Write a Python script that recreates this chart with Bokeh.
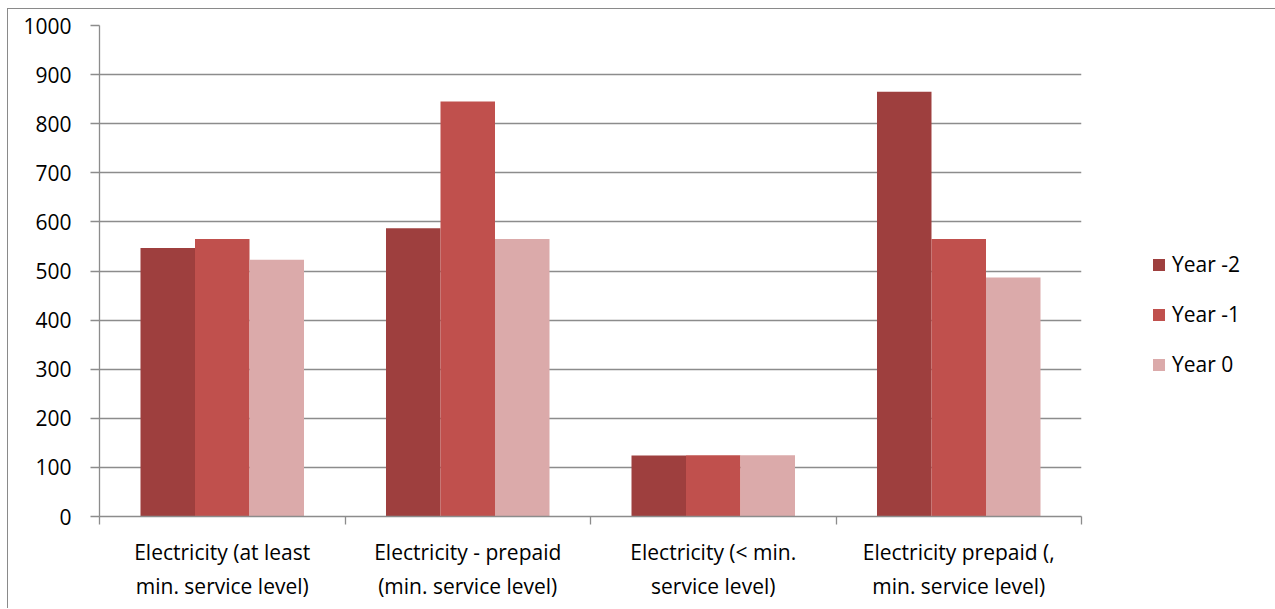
from bokeh.plotting import figure
from bokeh.models import ColumnDataSource, FixedTicker, Legend, LegendItem, Range1d
from bokeh.transform import dodge
from bokeh.embed import file_html
from bokeh.resources import INLINE

categories = [
    "Electricity (at least\nmin. service level)",
    "Electricity - prepaid\n(min. service level)",
    "Electricity (< min.\nservice level)",
    "Electricity prepaid (,\nmin. service level)",
]
series_names = ["Year -2", "Year -1", "Year 0"]
year_m2 = [547, 587, 124, 865]
year_m1 = [565, 845, 125, 565]
year_0 = [523, 565, 125, 487]
colors = ["#9e3f3e", "#c0504d", "#dbaaaa"]
y_ticks = [0, 100, 200, 300, 400, 500, 600, 700, 800, 900, 1000]

FONT = "Open Sans"
GRID = "#8c8c8c"

centers = [i + 0.5 for i in range(len(categories))]
source = ColumnDataSource(dict(x=centers, y2=year_m2, y1=year_m1, y0=year_0))

p = figure(
    frame_width=982, frame_height=491,
    x_range=Range1d(0, len(categories)), y_range=Range1d(0, 1000),
    output_backend="svg", toolbar_location=None,
    min_border_left=91, min_border_right=193, min_border_top=16, min_border_bottom=92,
)
p.styles = {
    "margin-left": "7px", "margin-top": "8px",
    "border-left": "1.5px solid #8a8a8a", "border-top": "1.5px solid #8a8a8a",
}
p.outline_line_color = None
p.background_fill_color = "white"
p.border_fill_color = "white"

bar_w = 0.222
renderers = []
for name, col, off, color in zip(series_names, ["y2", "y1", "y0"], [-bar_w, 0, bar_w], colors):
    r = p.vbar(x=dodge("x", off, range=p.x_range), top=col, width=bar_w, source=source,
               fill_color=color, line_color=None)
    renderers.append(r)

# y axis and grid
p.yaxis.ticker = FixedTicker(ticks=y_ticks, minor_ticks=[])
p.yaxis.axis_line_color = GRID
p.yaxis.axis_line_width = 1.3
p.yaxis.major_tick_line_color = GRID
p.yaxis.major_tick_line_width = 1.3
p.yaxis.major_tick_out = 9
p.yaxis.major_tick_in = 0
p.yaxis.major_label_standoff = 19
p.yaxis.major_label_text_font = FONT
p.yaxis.major_label_text_font_size = "21px"
p.yaxis.major_label_text_color = "#000000"
p.ygrid.grid_line_color = GRID
p.ygrid.grid_line_width = 1.3
p.xgrid.grid_line_color = None

# x axis: labels centered under groups, ticks on group boundaries
p.xaxis.ticker = FixedTicker(ticks=centers, minor_ticks=list(range(len(categories) + 1)))
p.xaxis.major_label_overrides = {c: lab for c, lab in zip(centers, categories)}
p.xaxis.axis_line_color = GRID
p.xaxis.axis_line_width = 1.3
p.xaxis.major_tick_line_color = None
p.xaxis.minor_tick_line_color = GRID
p.xaxis.minor_tick_line_width = 1.3
p.xaxis.minor_tick_out = 8
p.xaxis.minor_tick_in = 0
p.xaxis.major_label_standoff = 13
p.xaxis.major_label_text_font = FONT
p.xaxis.major_label_text_font_size = "21px"
p.xaxis.major_label_text_color = "#000000"
p.xaxis.major_label_text_line_height = 1.24

legend = Legend(
    items=[LegendItem(label=n, renderers=[r]) for n, r in zip(series_names, renderers)],
    location=(70, 138),
    glyph_width=15, glyph_height=15, label_standoff=6, spacing=22,
    label_text_font=FONT, label_text_font_size="21px", label_text_color="#000000",
    border_line_color=None, background_fill_alpha=0, padding=6, margin=0,
)
p.add_layout(legend, "right")

open("out.html", "w").write(file_html(p, INLINE))
